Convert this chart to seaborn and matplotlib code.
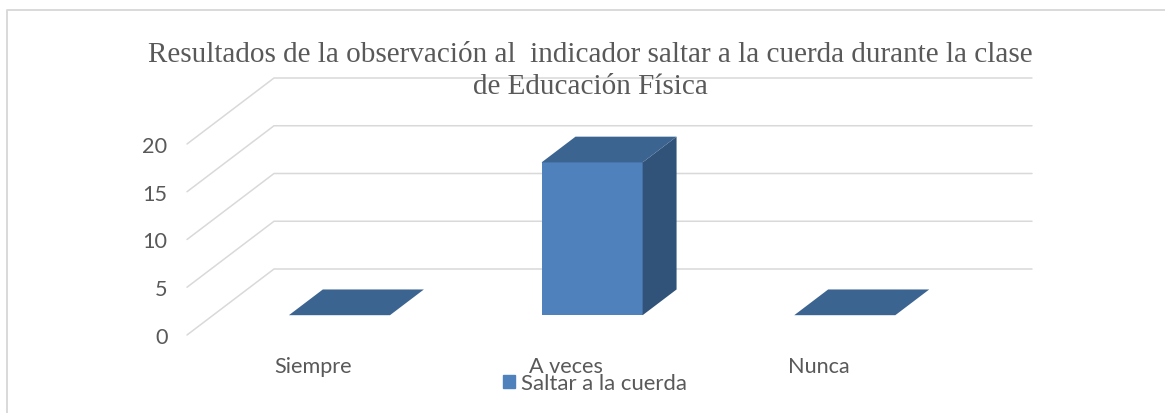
import numpy as np
import pandas as pd
import matplotlib
matplotlib.use("Agg")
import matplotlib.pyplot as plt
from matplotlib.patches import Patch, Polygon
from matplotlib.lines import Line2D
from matplotlib.transforms import Affine2D
import seaborn as sns

categories = ["Siempre", "A veces", "Nunca"]
values = [0, 16, 0]
series_name = "Saltar a la cuerda"
y_ticks = [0, 5, 10, 15, 20]
title = (
    "Resultados de la observación al  indicador saltar a la cuerda durante la clase\n"
    "de Educación Física"
)

W, H = 1165, 414
TEXT = "#595959"
GRID = "#d9d9d9"
FRONT = "#4f81bd"
TOP = "#3c6491"
SIDE = "#315279"

# oblique depth of the floor, in pixels
WALL = np.array([87, 66])
BAR_START = 0.30
BAR_DEPTH = 0.39

sns.set_theme(style="white")
plt.rcParams["font.family"] = ["Lato", "DejaVu Sans"]

df = pd.DataFrame({"cat": categories, "val": values})

fig = plt.figure(figsize=(W / 100, H / 100), dpi=100)
ax = fig.add_axes([187 / W, 1 - 336 / H, 758 / W, 191 / H])
sns.barplot(data=df, x="cat", y="val", color=FRONT, saturation=1, width=0.4, linewidth=0, ax=ax, zorder=3)
ax.set_xlim(-0.5, 2.5)
ax.set_ylim(0, 20)
ax.set_xlabel("")
ax.set_ylabel("")
ax.set_yticks(y_ticks)
ax.tick_params(axis="both", length=0, labelsize=15.6, labelcolor=TEXT)
ax.tick_params(axis="x", pad=15)
ax.tick_params(axis="y", pad=14)
ax.patch.set_alpha(0)
sns.despine(ax=ax, left=True, bottom=True)


def to_px(x, v, depth=0.0):
    return ax.transData.transform((x, v)) + depth * WALL


# walls
x0, x1 = ax.get_xlim()
for v in y_ticks:
    pts = [to_px(x0, v), to_px(x0, v, 1), to_px(x1, v, 1)]
    fig.add_artist(Line2D(*zip(*pts), transform=None, color=GRID, lw=1.1, zorder=0))

# bars: push the front face back, then add top and side
for bar, val in zip(ax.patches, values):
    bx0, bx1 = bar.get_x(), bar.get_x() + bar.get_width()
    near = BAR_START
    far = BAR_START + BAR_DEPTH
    bar.set_transform(ax.transData + Affine2D().translate(*(near * WALL)))
    bar.set_clip_on(False)
    top = [to_px(bx0, val, near), to_px(bx1, val, near), to_px(bx1, val, far), to_px(bx0, val, far)]
    side = [to_px(bx1, 0, near), to_px(bx1, val, near), to_px(bx1, val, far), to_px(bx1, 0, far)]
    fig.add_artist(Polygon(side, transform=None, fc=SIDE, ec="none", zorder=2))
    fig.add_artist(Polygon(top, transform=None, fc=TOP, ec="none", zorder=2))

# chart frame
fig.add_artist(Line2D([6.5 / W, 6.5 / W, 1], [0, 1 - 10.5 / H, 1 - 10.5 / H], color=GRID, lw=1.4, zorder=1))

fig.text(590.5 / W, 1 - 71 / H, title, ha="center", va="center", family="Liberation Serif",
         fontsize=21, color=TEXT, linespacing=1.3, zorder=5)

handle = Patch(color=FRONT, label=series_name)
fig.legend(handles=[handle], loc="center left", bbox_to_anchor=(503 / W, 1 - 384 / H), frameon=False,
           fontsize=15.9, labelcolor=TEXT, handlelength=0.55, handleheight=0.55, handletextpad=0.28,
           borderpad=0, borderaxespad=0)

fig.savefig("out.png", dpi=100)
